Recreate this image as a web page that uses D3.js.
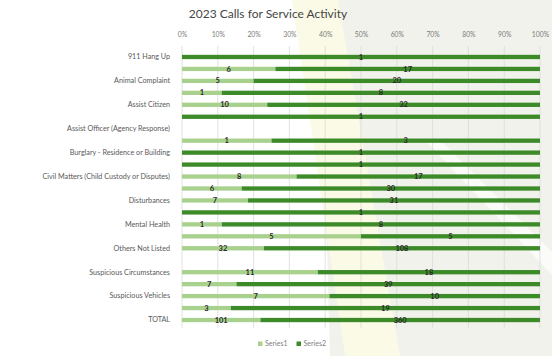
<!DOCTYPE html>
<html>
<head>
<meta charset="utf-8">
<script src="https://cdn.jsdelivr.net/npm/d3@7/dist/d3.min.js"></script>
<style>
  html, body { margin: 0; padding: 0; background: #fff; }
  svg { display: block; font-family: Lato, "Open Sans", sans-serif; }
</style>
</head>
<body>
<svg id="chart" width="552" height="356"></svg>
<script>
// Category labels (every second row carries a visible label)
const categories = [
  "911 Hang Up", "", "Animal Complaint", "", "Assist Citizen", "",
  "Assist Officer (Agency Response)", "", "Burglary - Residence or Building", "",
  "Civil Matters (Child Custody or Disputes)", "", "Disturbances", "",
  "Mental Health", "", "Others Not Listed", "", "Suspicious Circumstances", "",
  "Suspicious Vehicles", "", "TOTAL"
];
// Series values per row (null = no entry)
const series1 = [0, 6, 5, 1, 10, 0, null, 1, 0, 0, 8, 6, 7, 0, 1, 5, 32, null, 11, 7, 7, 3, 101];
const series2 = [1, 17, 20, 8, 32, 1, null, 3, 1, 1, 17, 30, 31, 1, 8, 5, 108, null, 18, 39, 10, 19, 360];
const tickLabels = ["0%", "10%", "20%", "30%", "40%", "50%", "60%", "70%", "80%", "90%", "100%"];
const seriesNames = ["Series1", "Series2"];
const colors = ["#a9d18e", "#3c8a28"];

const svg = d3.select("#chart");

// Faint background emblem
const bg = svg.append("g");
bg.append("path")
  .attr("d", "M320,0 L552,0 L552,356 L330,356 Z")
  .attr("fill", "#efefe8").attr("opacity", 0.8);
bg.append("path")
  .attr("d", "M292,0 L338,0 L400,356 L345,356 Z")
  .attr("fill", "#fafae6").attr("opacity", 0.95);
bg.append("path")
  .attr("d", "M425,140 L440,140 L552,252 L552,275 Z")
  .attr("fill", "#ffffff").attr("opacity", 0.7);

const x = d3.scaleLinear().domain([0, 1]).range([182, 540]);
const idx = d3.range(categories.length);
const y = d3.scaleBand().domain(idx).range([51, 326]).paddingInner(0.64).paddingOuter(0.32);

// Title
svg.append("text")
  .attr("x", 268).attr("y", 18)
  .attr("text-anchor", "middle")
  .attr("font-size", 12).attr("fill", "#454545")
  .text("2023 Calls for Service Activity");

// Vertical gridlines and top axis
const ticks = d3.range(0, 1.0001, 0.1);
svg.append("g").selectAll("line").data(ticks).join("line")
  .attr("x1", d => x(d)).attr("x2", d => x(d))
  .attr("y1", 46).attr("y2", 328)
  .attr("stroke", "#d9d9d9").attr("stroke-width", 0.8);

const axis = d3.axisTop(x).tickValues(ticks).tickSize(0)
  .tickFormat((d, i) => tickLabels[i]);
const ax = svg.append("g").attr("transform", "translate(0,40)").call(axis);
ax.select(".domain").remove();
ax.selectAll("text").attr("font-size", 6.8).attr("fill", "#7a7a7a")
  .attr("font-family", "Lato, sans-serif");

// Category axis on the left
const yAxis = d3.axisLeft(y).tickSize(0).tickPadding(10)
  .tickFormat(i => categories[i]);
const ay = svg.append("g").attr("transform", "translate(180,0)").call(yAxis);
ay.select(".domain").remove();
ay.selectAll("text").attr("font-size", 7.2).attr("fill", "#595959")
  .attr("font-family", "Lato, sans-serif");

// Stacked 100% bars
const rows = idx.filter(i => series1[i] !== null);
const bars = svg.append("g");
rows.forEach(i => {
  const a = series1[i], b = series2[i], t = a + b;
  const segs = [
    { v: a, x0: 0, x1: a / t, c: colors[0] },
    { v: b, x0: a / t, x1: 1, c: colors[1] }
  ];
  segs.forEach(s => {
    if (s.v <= 0) return;
    bars.append("rect")
      .attr("x", x(s.x0)).attr("y", y(i))
      .attr("width", x(s.x1) - x(s.x0)).attr("height", y.bandwidth())
      .attr("fill", s.c);
    bars.append("text")
      .attr("x", (x(s.x0) + x(s.x1)) / 2)
      .attr("y", y(i) + y.bandwidth() / 2 + 2.6)
      .attr("text-anchor", "middle")
      .attr("font-size", 7.5).attr("font-weight", "bold")
      .attr("fill", "#2a2a2a")
      .text(s.v);
  });
});

// Legend
const legend = svg.append("g").attr("transform", "translate(258,346)");
let lx = 0;
seriesNames.forEach((n, k) => {
  legend.append("rect").attr("x", lx).attr("y", -4.5).attr("width", 4.5).attr("height", 4.5)
    .attr("fill", colors[k]);
  const t = legend.append("text").attr("x", lx + 7).attr("y", 0)
    .attr("font-size", 7).attr("fill", "#808080").text(n);
  lx += 7 + t.node().getComputedTextLength() + 9;
});
</script>
</body>
</html>
